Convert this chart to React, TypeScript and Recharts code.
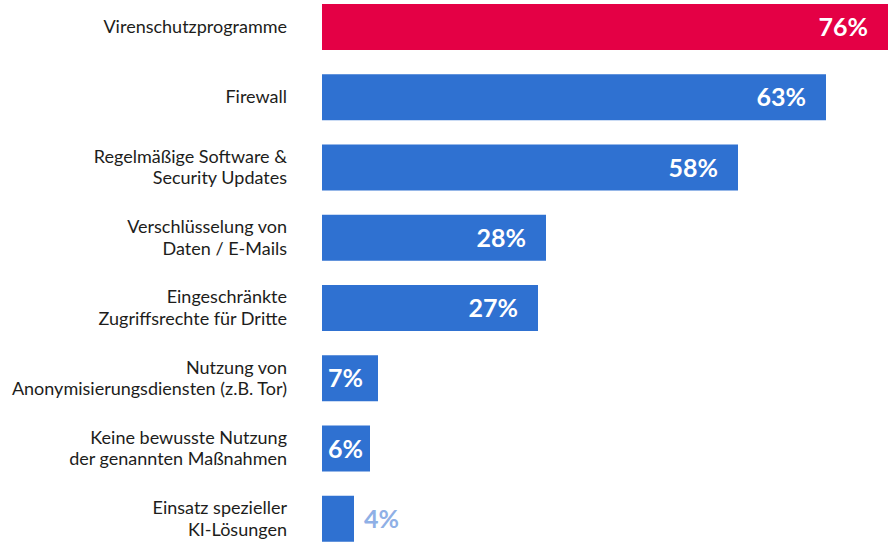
import { BarChart, Bar, XAxis, YAxis, Cell, LabelList } from 'recharts';

const categories = [
  'Virenschutzprogramme',
  'Firewall',
  'Regelmäßige Software &\nSecurity Updates',
  'Verschlüsselung von\nDaten / E-Mails',
  'Eingeschränkte\nZugriffsrechte für Dritte',
  'Nutzung von\nAnonymisierungsdiensten (z.B. Tor)',
  'Keine bewusste Nutzung\nder genannten Maßnahmen',
  'Einsatz spezieller\nKI-Lösungen',
];
// bar lengths as drawn in the picture
const values = [76, 63, 52, 28, 27, 7, 6, 4];
// printed labels
const valueLabels = ['76%', '63%', '58%', '28%', '27%', '7%', '6%', '4%'];

const data = categories.map((name, i) => ({ name, value: values[i], label: valueLabels[i] }));

const W = 888;
const H = 562;
const FONT = 'Lato, "Open Sans", sans-serif';

const CategoryTick = (props: any) => {
  const { x, y, payload } = props;
  const lines = String(payload.value).split('\n');
  return (
    <text x={x} y={y} textAnchor="end" fill="#1d1d1b" fontSize={18} fontFamily={FONT}>
      {lines.map((l, i) => (
        <tspan key={i} x={x} y={y + (i - (lines.length - 1) / 2) * 21.5 + 6}>
          {l}
        </tspan>
      ))}
    </text>
  );
};

const ValueLabel = (props: any) => {
  const { x, y, width, height, value } = props;
  const end = Math.min(x + width, W);
  const cy = y + height / 2;
  if (width > 60) {
    return (
      <text x={end - 20} y={cy} dy="0.36em" textAnchor="end" fill="#fff" fontSize={25} fontWeight={700} fontFamily={FONT}>
        {value}
      </text>
    );
  }
  if (width > 40) {
    return (
      <text x={x + 6} y={cy} dy="0.36em" textAnchor="start" fill="#fff" fontSize={25} fontWeight={700} fontFamily={FONT}>
        {value}
      </text>
    );
  }
  return (
    <text x={end + 10} y={cy} dy="0.36em" textAnchor="start" fill="#8fb0e6" fontSize={25} fontWeight={700} fontFamily={FONT}>
      {value}
    </text>
  );
};

export default function App() {
  return (
    <div style={{ position: 'absolute', left: 0, top: -8, width: W, height: H }}>
      <BarChart width={W} height={H} data={data} layout="vertical" margin={{ top: 0, right: 0, bottom: 0, left: 0 }}>
        <XAxis type="number" domain={[0, 70.75]} allowDataOverflow hide />
        <YAxis
          type="category"
          dataKey="name"
          width={322}
          axisLine={false}
          tickLine={false}
          tickSize={0}
          tickMargin={35}
          tick={<CategoryTick />}
          interval={0}
        />
        <Bar dataKey="value" barSize={46} isAnimationActive={false}>
          {data.map((d, i) => (
            <Cell key={i} fill={i === 0 ? '#e40045' : '#2f71d1'} />
          ))}
          <LabelList dataKey="label" content={<ValueLabel />} />
        </Bar>
      </BarChart>
    </div>
  );
}
